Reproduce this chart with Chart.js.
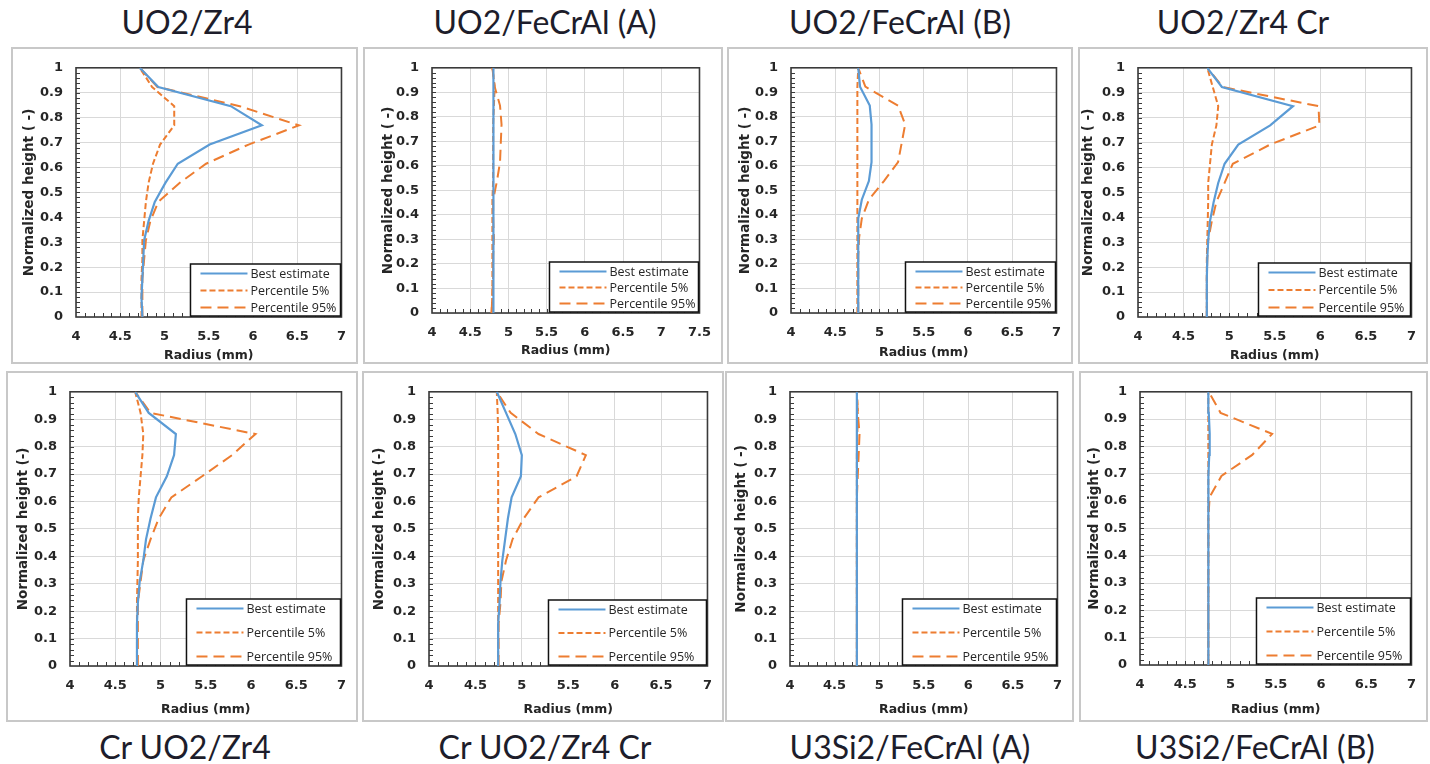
<!DOCTYPE html>
<html>
<head>
<meta charset="utf-8">
<script src="https://cdn.jsdelivr.net/npm/chart.js@4.4.0/dist/chart.umd.min.js"></script>
<style>
body{margin:0;width:1430px;height:764px;background:#fff;position:relative;overflow:hidden}
.frame{position:absolute;box-sizing:border-box;border:2px solid #c8c8c8}
canvas{position:absolute}
.title{position:absolute;font-family:Lato,sans-serif;font-size:32px;color:#1d1d2b;transform:translate(-50%,-50%);white-space:nowrap}
</style>
</head>
<body>
<script>
// normalized heights shared by every panel (bottom to top)
const HEIGHTS = [0, 0.077, 0.154, 0.231, 0.308, 0.385, 0.462, 0.538, 0.615, 0.692, 0.769, 0.846, 0.923, 1]

const TITLES = ["UO2/Zr4", "UO2/FeCrAl (A)", "UO2/FeCrAl (B)", "UO2/Zr4 Cr",
                "Cr UO2/Zr4", "Cr UO2/Zr4 Cr", "U3Si2/FeCrAl (A)", "U3Si2/FeCrAl (B)"]
const X_MAX = [7, 7.5, 7, 7, 7, 7, 7, 7]
const Y_TITLES = ["Normalized height ( -)", "Normalized height ( -)", "Normalized height ( -)", "Normalized height ( -)",
                  "Normalized height (-)", "Normalized height (-)", "Normalized height ( -)", "Normalized height (-)"]
const LEGEND_LABELS = ["Best estimate", "Percentile 5%", "Percentile 95%"]

// radius (mm) per height
const UO2_ZR4_BEST = [4.75, 4.74, 4.75, 4.76, 4.77, 4.82, 4.89, 5.01, 5.15, 5.51, 6.10, 5.75, 4.93, 4.72]
const UO2_ZR4_P5   = [4.74, 4.74, 4.74, 4.75, 4.75, 4.77, 4.79, 4.82, 4.87, 4.95, 5.11, 5.11, 4.86, 4.72]
const UO2_ZR4_P95  = [4.75, 4.75, 4.75, 4.77, 4.79, 4.84, 4.93, 5.17, 5.47, 5.95, 6.52, 5.85, 4.92, 4.72]

const UO2_FECRAL_A_BEST = [4.80, 4.80, 4.80, 4.80, 4.80, 4.80, 4.80, 4.81, 4.81, 4.81, 4.81, 4.81, 4.80, 4.80]
const UO2_FECRAL_A_P5   = [4.78, 4.79, 4.79, 4.79, 4.79, 4.79, 4.79, 4.80, 4.80, 4.80, 4.80, 4.81, 4.82, 4.79]
const UO2_FECRAL_A_P95  = [4.78, 4.79, 4.80, 4.80, 4.81, 4.80, 4.80, 4.85, 4.89, 4.90, 4.91, 4.89, 4.82, 4.79]

const UO2_FECRAL_B_BEST = [4.76, 4.76, 4.76, 4.76, 4.76, 4.76, 4.80, 4.88, 4.91, 4.91, 4.91, 4.89, 4.78, 4.76]
const UO2_FECRAL_B_P5   = [4.75, 4.75, 4.75, 4.75, 4.75, 4.75, 4.75, 4.75, 4.75, 4.75, 4.75, 4.75, 4.75, 4.76]
const UO2_FECRAL_B_P95  = [4.76, 4.76, 4.76, 4.76, 4.77, 4.80, 4.88, 5.05, 5.21, 5.25, 5.29, 5.21, 4.84, 4.76]

const UO2_ZR4CR_BEST = [4.755, 4.755, 4.755, 4.76, 4.77, 4.79, 4.83, 4.88, 4.95, 5.10, 5.45, 5.70, 4.92, 4.76]
const UO2_ZR4CR_P5   = [4.755, 4.755, 4.755, 4.755, 4.76, 4.765, 4.77, 4.77, 4.79, 4.81, 4.86, 4.88, 4.82, 4.76]
const UO2_ZR4CR_P95  = [4.755, 4.755, 4.755, 4.76, 4.77, 4.81, 4.86, 4.95, 5.04, 5.45, 5.99, 5.98, 4.93, 4.76]

const CR_UO2_ZR4_BEST = [4.74, 4.74, 4.74, 4.75, 4.77, 4.81, 4.84, 4.89, 4.95, 5.07, 5.15, 5.17, 4.87, 4.72]
const CR_UO2_ZR4_P5   = [4.74, 4.74, 4.74, 4.74, 4.745, 4.75, 4.75, 4.75, 4.76, 4.78, 4.80, 4.81, 4.78, 4.72]
const CR_UO2_ZR4_P95  = [4.75, 4.75, 4.75, 4.75, 4.78, 4.81, 4.89, 4.98, 5.12, 5.46, 5.79, 6.05, 4.89, 4.72]

const CR_UO2_ZR4CR_BEST = [4.745, 4.745, 4.745, 4.76, 4.77, 4.79, 4.82, 4.85, 4.89, 4.99, 5.00, 4.93, 4.83, 4.73]
const CR_UO2_ZR4CR_P5   = [4.745, 4.745, 4.745, 4.745, 4.745, 4.745, 4.745, 4.745, 4.745, 4.745, 4.745, 4.745, 4.74, 4.73]
const CR_UO2_ZR4CR_P95  = [4.75, 4.75, 4.75, 4.77, 4.78, 4.83, 4.90, 5.02, 5.18, 5.59, 5.69, 5.18, 4.88, 4.73]

const U3SI2_FECRAL_A_BEST = [4.75, 4.75, 4.75, 4.75, 4.75, 4.75, 4.75, 4.75, 4.75, 4.75, 4.75, 4.75, 4.75, 4.75]
const U3SI2_FECRAL_A_P5   = [4.75, 4.75, 4.75, 4.75, 4.75, 4.75, 4.75, 4.75, 4.75, 4.75, 4.75, 4.755, 4.76, 4.75]
const U3SI2_FECRAL_A_P95  = [4.75, 4.75, 4.75, 4.75, 4.75, 4.75, 4.75, 4.75, 4.75, 4.76, 4.77, 4.78, 4.76, 4.75]

const U3SI2_FECRAL_B_BEST = [4.755, 4.755, 4.755, 4.755, 4.755, 4.755, 4.755, 4.755, 4.755, 4.76, 4.765, 4.77, 4.76, 4.755]
const U3SI2_FECRAL_B_P5   = [4.755, 4.755, 4.755, 4.755, 4.755, 4.755, 4.755, 4.755, 4.755, 4.755, 4.755, 4.755, 4.755, 4.755]
const U3SI2_FECRAL_B_P95  = [4.755, 4.755, 4.755, 4.755, 4.755, 4.755, 4.755, 4.755, 4.77, 4.90, 5.24, 5.46, 4.89, 4.76]

const SERIES = [
    [UO2_ZR4_BEST, UO2_ZR4_P5, UO2_ZR4_P95],
    [UO2_FECRAL_A_BEST, UO2_FECRAL_A_P5, UO2_FECRAL_A_P95],
    [UO2_FECRAL_B_BEST, UO2_FECRAL_B_P5, UO2_FECRAL_B_P95],
    [UO2_ZR4CR_BEST, UO2_ZR4CR_P5, UO2_ZR4CR_P95],
    [CR_UO2_ZR4_BEST, CR_UO2_ZR4_P5, CR_UO2_ZR4_P95],
    [CR_UO2_ZR4CR_BEST, CR_UO2_ZR4CR_P5, CR_UO2_ZR4CR_P95],
    [U3SI2_FECRAL_A_BEST, U3SI2_FECRAL_A_P5, U3SI2_FECRAL_A_P95],
    [U3SI2_FECRAL_B_BEST, U3SI2_FECRAL_B_P5, U3SI2_FECRAL_B_P95]
]

// page layout: frame box, plot box, y title centre x, x title centre y, legend w/h
const LAYOUT = [
    {frame: [11, 47, 347, 317],   plot: [76, 58, 271, 259],   yt: 29,   xt: 356, leg: [150, 52]},
    {frame: [363, 47, 360, 317],  plot: [432, 67, 268, 246],  yt: 388,  xt: 351, leg: [149, 50]},
    {frame: [727, 47, 346, 317],  plot: [791, 67, 266, 246],  yt: 745,  xt: 353, leg: [150, 50]},
    {frame: [1078, 47, 350, 317], plot: [1138, 58, 280, 259], yt: 1088, xt: 356, leg: [152, 53]},
    {frame: [6, 371, 352, 351],   plot: [70, 384, 277, 282],  yt: 23,   xt: 710, leg: [154, 66]},
    {frame: [362, 371, 362, 351], plot: [429, 385, 282, 281], yt: 379,  xt: 710, leg: [158, 65]},
    {frame: [725, 371, 349, 351], plot: [790, 384, 274, 282], yt: 741,  xt: 710, leg: [154, 66]},
    {frame: [1079, 371, 349, 351],plot: [1140, 384, 275, 281],yt: 1094, xt: 710, leg: [154, 66]}
]
const TITLE_POS = [[187, 21], [545, 21], [900, 21], [1243, 21], [185, 746], [545, 746], [910, 746], [1255, 746]]

const BLUE = '#5b9bd5'
const ORANGE = '#ed7d31'
const DASHES = [[], [6, 3], [11, 6]]
const TICK_FONT = {family: 'DejaVu Sans', weight: 'bold', size: 13}
const X_TITLE_FONT = {family: 'DejaVu Sans', weight: 'bold', size: 12.5}
const Y_TITLE_FONT = {family: 'DejaVu Sans', weight: 'bold', size: 13.5}

// plot-area border plus inward minor ticks
const frameBox = {
    id: 'frameBox',
    beforeDatasetsDraw(chart){
        const {ctx, chartArea: a, scales: {x, y}} = chart
        ctx.save()
        ctx.strokeStyle = '#3a3a3a'
        ctx.lineWidth = 1
        ctx.beginPath()
        const nx = Math.round((x.max - x.min) / 0.1)
        for (let i = 1; i < nx; i++){
            const px = Math.round(x.getPixelForValue(x.min + i * 0.1)) + 0.5
            ctx.moveTo(px, a.bottom); ctx.lineTo(px, a.bottom - 4)
        }
        for (let i = 1; i < 50; i++){
            const py = Math.round(y.getPixelForValue(i * 0.02)) + 0.5
            ctx.moveTo(a.left, py); ctx.lineTo(a.left + 4, py)
        }
        ctx.stroke()
        ctx.lineWidth = 1.6
        ctx.strokeRect(a.left, a.top, a.right - a.left, a.bottom - a.top)
        ctx.restore()
    }
}

// boxed legend in the lower right of the plot area
const boxLegend = {
    id: 'boxLegend',
    afterDatasetsDraw(chart, args, opts){
        const {ctx, chartArea: a} = chart
        const [w, h] = opts.size
        const x0 = a.right - 1 - w, y0 = a.bottom - 1 - h
        ctx.save()
        ctx.fillStyle = '#fff'
        ctx.fillRect(x0, y0, w, h)
        ctx.strokeStyle = '#111'
        ctx.lineWidth = 1.5
        ctx.strokeRect(x0, y0, w, h)
        const gap = (h - 18) / 2
        chart.data.datasets.forEach((ds, i) => {
            const cy = y0 + 9.5 + i * gap
            ctx.strokeStyle = ds.borderColor
            ctx.lineWidth = 2
            ctx.setLineDash(ds.borderDash)
            ctx.beginPath()
            ctx.moveTo(x0 + 10, cy); ctx.lineTo(x0 + 57, cy)
            ctx.stroke()
            ctx.setLineDash([])
            ctx.fillStyle = '#262626'
            ctx.font = '12.5px "Open Sans"'
            ctx.textBaseline = 'middle'
            ctx.fillText(ds.label, x0 + 60, cy + 0.5)
        })
        ctx.restore()
    }
}

const fmt = v => String(Math.round(v * 100) / 100)

function drawPanel(i){
    const L = LAYOUT[i]
    const [fx, fy, fw, fh] = L.frame
    const [px, py, pw, ph] = L.plot

    const frame = document.createElement('div')
    frame.className = 'frame'
    Object.assign(frame.style, {left: fx + 'px', top: fy + 'px', width: fw + 'px', height: fh + 'px'})
    document.body.appendChild(frame)

    const canvas = document.createElement('canvas')
    canvas.width = fw; canvas.height = fh
    Object.assign(canvas.style, {left: fx + 'px', top: fy + 'px', width: fw + 'px', height: fh + 'px'})
    document.body.appendChild(canvas)

    const xHalf = X_TITLE_FONT.size * 1.2 / 2
    const yHalf = Y_TITLE_FONT.size * 1.2 / 2
    const xAxisH = L.xt - (py + ph) + xHalf
    const padBottom = Math.max(fy + fh - (py + ph) - xAxisH, 0)

    const datasets = SERIES[i].map((vals, k) => ({
        label: LEGEND_LABELS[k],
        data: vals.map((r, j) => ({x: r, y: HEIGHTS[j]})),
        borderColor: k === 0 ? BLUE : ORANGE,
        borderDash: DASHES[k],
        borderWidth: k === 0 ? 2.2 : 2,
        pointRadius: 0,
        tension: 0,
        fill: false
    }))
    datasets[0].order = 0; datasets[1].order = 2; datasets[2].order = 1

    new Chart(canvas, {
        type: 'line',
        data: {datasets: datasets},
        options: {
            responsive: false,
            animation: false,
            events: [],
            layout: {padding: {top: py - fy, right: fx + fw - (px + pw), left: 0, bottom: padBottom}},
            plugins: {
                legend: {display: false},
                tooltip: {enabled: false},
                boxLegend: {size: L.leg}
            },
            scales: {
                x: {
                    type: 'linear', min: 4, max: X_MAX[i],
                    ticks: {stepSize: 0.5, padding: 12, color: '#262626', font: TICK_FONT, maxRotation: 0, callback: fmt},
                    grid: {color: '#d9d9d9', drawTicks: false},
                    border: {display: false},
                    title: {display: true, text: 'Radius (mm)', color: '#262626', font: X_TITLE_FONT, padding: 0},
                    afterFit: s => { s.height = xAxisH }
                },
                y: {
                    type: 'linear', min: 0, max: 1,
                    ticks: {stepSize: 0.1, padding: 13, color: '#262626', font: TICK_FONT, callback: fmt},
                    grid: {color: '#d9d9d9', drawTicks: false},
                    border: {display: false},
                    title: {display: true, text: Y_TITLES[i], color: '#262626', font: Y_TITLE_FONT,
                            padding: {top: L.yt - fx - yHalf, bottom: 0}},
                    afterFit: s => { s.width = px - fx }
                }
            }
        },
        plugins: [frameBox, boxLegend]
    })

    const t = document.createElement('div')
    t.className = 'title'
    t.textContent = TITLES[i]
    t.style.left = TITLE_POS[i][0] + 'px'
    t.style.top = TITLE_POS[i][1] + 'px'
    document.body.appendChild(t)
}

for (let i = 0; i < 8; i++) drawPanel(i)
</script>
</body>
</html>
